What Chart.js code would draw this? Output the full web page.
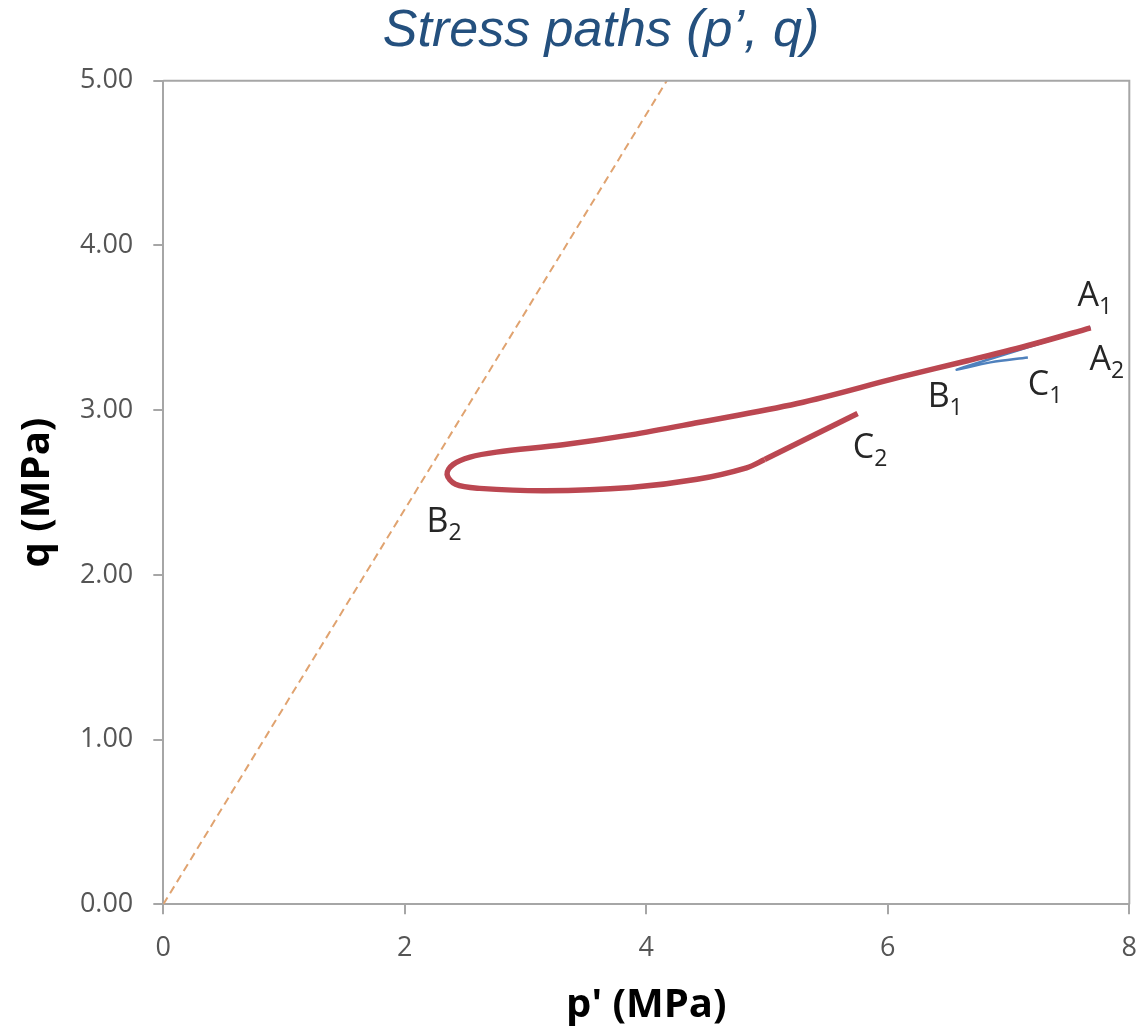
<!DOCTYPE html>
<html>
<head>
<meta charset="utf-8">
<title>Stress paths</title>
<script src="https://cdn.jsdelivr.net/npm/chart.js@4.4.1/dist/chart.umd.min.js"></script>
<style>
  html, body { margin: 0; padding: 0; background: #fff; }
</style>
</head>
<body>
<canvas id="stressChart" width="1138" height="1030"></canvas>
<script>
// test 2 : A2 -> B2 (loop near the CSL) -> kink
const test2P = [7.68, 7.20, 6.66, 6.10, 5.25, 4.43, 3.87, 3.31, 2.76, 2.54, 2.40, 2.35, 2.42, 2.62, 3.17, 3.87, 4.42, 4.83, 4.98];
const test2Q = [3.50, 3.40, 3.30, 3.20, 3.04, 2.925, 2.85, 2.79, 2.745, 2.715, 2.67, 2.61, 2.55, 2.525, 2.51, 2.53, 2.58, 2.65, 2.70];
// test 2 : straight reload up to C2
const test2EndP = [4.98, 5.75];
const test2EndQ = [2.70, 2.98];
// test 1 : A1 -> B1 -> C1
const test1P = [7.68, 7.20, 6.80, 6.57, 6.85, 7.16];
const test1Q = [3.50, 3.39, 3.30, 3.245, 3.29, 3.32];
// critical state line q = M p'
const cslP = [0, 4.17];
const cslQ = [0, 5.0];

const xTicks = [0, 2, 4, 6, 8];
const yTicks = [0, 1, 2, 3, 4, 5];

// point names (letter + subscript) anchored in p', q
const pointNames = [
  { name: "A", sub: "1", p: 7.57, q: 3.63 },
  { name: "A", sub: "2", p: 7.67, q: 3.245 },
  { name: "B", sub: "1", p: 6.33, q: 3.02 },
  { name: "C", sub: "1", p: 7.16, q: 3.09 },
  { name: "B", sub: "2", p: 2.18, q: 2.26 },
  { name: "C", sub: "2", p: 5.71, q: 2.71 },
];

const toXY = (ps, qs) => ps.map((p, i) => ({ x: p, y: qs[i] }));

const axisGray = "#a6a6a6";
const tickFont = { family: "Open Sans", size: 27 };
const titleFont = { family: "Open Sans", size: 40, weight: "bold" };

// box round the plot area (top and right edges)
const frame = {
  id: "frame",
  afterDraw(chart) {
    const { ctx, chartArea: a } = chart;
    ctx.save();
    ctx.strokeStyle = axisGray;
    ctx.lineWidth = 2;
    ctx.beginPath();
    ctx.moveTo(a.left, a.top);
    ctx.lineTo(a.right, a.top);
    ctx.lineTo(a.right, a.bottom);
    ctx.stroke();
    ctx.restore();
  },
};

// A1, B2 ... with subscripts
const names = {
  id: "names",
  afterDatasetsDraw(chart) {
    const { ctx } = chart;
    const xs = chart.scales.x, ys = chart.scales.y;
    ctx.save();
    ctx.fillStyle = "#262626";
    ctx.textBaseline = "alphabetic";
    ctx.textAlign = "left";
    for (const n of pointNames) {
      const px = xs.getPixelForValue(n.p);
      const py = ys.getPixelForValue(n.q);
      ctx.font = "34px 'Open Sans'";
      ctx.fillText(n.name, px, py);
      const w = ctx.measureText(n.name).width;
      ctx.font = "23px 'Open Sans'";
      ctx.fillText(n.sub, px + w, py + 8);
    }
    ctx.restore();
  },
};

// chart heading, drawn by hand so it can sit off-centre
const heading = {
  id: "heading",
  afterDraw(chart) {
    const { ctx } = chart;
    ctx.save();
    ctx.font = "italic 52px 'Liberation Sans'";
    ctx.fillStyle = "#24507e";
    ctx.textAlign = "center";
    ctx.textBaseline = "alphabetic";
    ctx.fillText("Stress paths (p\u2019, q)", 601, 46);
    ctx.restore();
  },
};

new Chart(document.getElementById("stressChart"), {
  type: "scatter",
  data: {
    datasets: [
      {
        label: "Test 2",
        data: toXY(test2P, test2Q),
        showLine: true,
        borderColor: "#bb4751",
        borderWidth: 5.5,
        tension: 0.35,
        pointRadius: 0,
      },
      {
        label: "Test 2 reload",
        data: toXY(test2EndP, test2EndQ),
        showLine: true,
        borderColor: "#bb4751",
        borderWidth: 5.5,
        tension: 0,
        pointRadius: 0,
      },
      {
        label: "Test 1",
        data: toXY(test1P, test1Q),
        showLine: true,
        borderColor: "#4f81bd",
        borderWidth: 2.5,
        tension: 0.35,
        pointRadius: 0,
      },
      {
        label: "CSL",
        data: toXY(cslP, cslQ),
        showLine: true,
        borderColor: "#e0a370",
        borderWidth: 2,
        borderDash: [8, 5],
        pointRadius: 0,
      },
    ],
  },
  options: {
    responsive: false,
    animation: false,
    devicePixelRatio: 1,
    layout: { padding: { top: 80.7, right: 8.7, left: 0, bottom: 0 } },
    plugins: {
      legend: { display: false },
      tooltip: { enabled: false },
    },
    scales: {
      x: {
        type: "linear",
        min: 0,
        max: 8,
        afterBuildTicks: (axis) => { axis.ticks = xTicks.map((v) => ({ value: v })); },
        afterFit: (axis) => {
          axis.height = 125.7;
          axis.paddingLeft = 0;
          axis.paddingRight = 0;
        },
        ticks: { font: tickFont, color: "#555555", padding: 18, maxRotation: 0 },
        grid: { drawOnChartArea: false, tickLength: 10, color: axisGray, lineWidth: 2 },
        border: { color: axisGray, width: 2 },
        title: { display: true, text: "p' (MPa)", font: titleFont, color: "#000", padding: { top: 0, bottom: 0 } },
      },
      y: {
        type: "linear",
        min: 0,
        max: 5,
        afterBuildTicks: (axis) => { axis.ticks = yTicks.map((v) => ({ value: v })); },
        afterFit: (axis) => {
          axis.width = 163.3;
          axis.paddingTop = 0;
          axis.paddingBottom = 0;
        },
        ticks: { font: tickFont, color: "#555555", padding: 20, callback: (v) => v.toFixed(2) },
        grid: { drawOnChartArea: false, tickLength: 10, color: axisGray, lineWidth: 2 },
        border: { color: axisGray, width: 2 },
        title: { display: true, text: "q (MPa)", font: titleFont, color: "#000", padding: { top: 14, bottom: 0 } },
      },
    },
  },
  plugins: [frame, names, heading],
});
</script>
</body>
</html>
